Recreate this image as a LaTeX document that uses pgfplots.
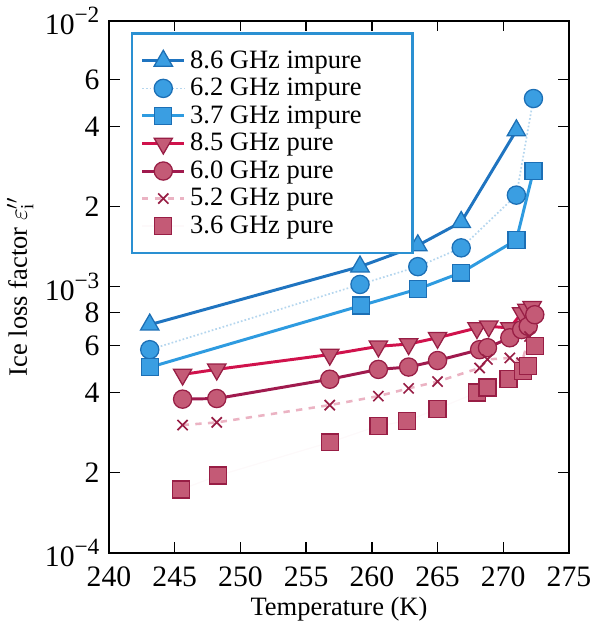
\documentclass[border=0pt]{standalone}
\usepackage{fontspec}
\setmainfont{Liberation Serif}
\usepackage{pgfplots}
\pgfplotsset{compat=1.18}
\definecolor{bluedark}{HTML}{1F74C0}
\definecolor{bluemid}{HTML}{2E9BE0}
\definecolor{bluefill}{HTML}{3A9EE2}
\definecolor{blueedge}{HTML}{1C6FB5}
\definecolor{bluefaint}{HTML}{B5D6EE}
\definecolor{redline}{HTML}{D0124C}
\definecolor{maroon}{HTML}{A01A4E}
\definecolor{pinkfaint}{HTML}{EBB3C3}
\definecolor{pinkfill}{HTML}{C45A76}
\definecolor{pinkedge}{HTML}{981E45}
\definecolor{legblue}{HTML}{2A90D2}
\newcommand{\pw}[1]{10\raisebox{0.85ex}{\fontsize{11}{12}\selectfont −#1}}
\begin{document}
\begin{tikzpicture}
\begin{axis}[
  scale only axis,
  width=217pt, height=251pt,
  ymode=log,
  xmin=240, xmax=275, ymin=1e-4, ymax=1e-2,
  xtick={240,245,...,275},
  ytick={1e-4,2e-4,4e-4,6e-4,8e-4,1e-3,2e-3,4e-3,6e-3,1e-2},
  yticklabels={\pw{4},2,4,6,8,\pw{3},2,4,6,\pw{2}},
  minor ytick={},
  /pgf/number format/assume math mode=true,
  xticklabel style={/pgf/number format/1000 sep={}, yshift=-3pt},
  yticklabel style={xshift=-1pt},
  tick style={black, line width=0.7pt},
  major tick length=5pt,
  axis line style={black, line width=1pt},
  tick label style={font=\fontsize{14}{15}\selectfont},
  label style={font=\fontsize{12.5}{14}\selectfont},
  xlabel={Temperature (K)},
  ylabel={Ice loss factor $\varepsilon_{\mathrm{i}}''$},
  xlabel style={yshift=2pt},
  ylabel style={yshift=-1.4pt},
  legend cell align=left,
  legend style={at={(0.048,0.978)}, anchor=north west, draw=legblue, line width=1pt,
    font=\fontsize{12.5}{13}\selectfont, inner xsep=4pt, inner ysep=6pt, row sep=-0.8pt},
  legend image code/.code={\draw[#1] (0pt,0pt) -- (20pt,0pt); \path[#1] plot coordinates {(10pt,0pt)};},
]
% 8.6 GHz impure
\addplot[bluedark, line width=1.4pt, mark=triangle*, mark size=5pt,
  mark options={fill=bluefill, draw=blueedge, line width=0.6pt, solid}] coordinates {
  (243.1,7.2e-4) (259.1,1.19e-3) (263.5,1.43e-3) (266.8,1.75e-3) (271.0,3.87e-3)};
\addlegendentry{8.6 GHz impure\hspace*{18pt}}
% 6.2 GHz impure
\addplot[bluefaint, line width=0.8pt, densely dotted, mark=*, mark size=4.3pt,
  mark options={fill=bluefill, draw=blueedge, line width=0.6pt, solid}] coordinates {
  (243.1,5.8e-4) (259.1,1.02e-3) (263.5,1.19e-3) (266.8,1.40e-3) (271.0,2.21e-3) (272.3,5.1e-3)};
\addlegendentry{6.2 GHz impure}
% 3.7 GHz impure
\addplot[bluemid, line width=1.4pt, mark=square*, mark size=4pt,
  mark options={fill=bluefill, draw=blueedge, line width=0.6pt, solid}] coordinates {
  (243.1,4.98e-4) (259.2,8.5e-4) (263.5,9.8e-4) (266.8,1.13e-3) (271.0,1.50e-3) (272.3,2.73e-3)};
\addlegendentry{3.7 GHz impure}
% 8.5 GHz pure
\addplot[redline, line width=1.4pt, mark=triangle*, mark size=5pt,
  mark options={rotate=180, fill=pinkfill, draw=pinkedge, line width=0.6pt, solid}] coordinates {
  (245.6,4.68e-4) (248.2,4.89e-4) (256.8,5.56e-4) (260.5,5.97e-4) (262.8,6.09e-4) (265.0,6.43e-4)
  (268.0,7.0e-4) (268.9,7.1e-4) (270.5,7.0e-4) (271.4,7.96e-4) (271.8,8.2e-4) (272.2,8.4e-4)};
\addlegendentry{8.5 GHz pure}
% 6.0 GHz pure
\addplot[maroon, line width=1.4pt, mark=*, mark size=4.3pt,
  mark options={fill=pinkfill, draw=pinkedge, line width=0.6pt, solid}] coordinates {
  (245.6,3.78e-4) (248.2,3.8e-4) (256.8,4.49e-4) (260.5,4.89e-4) (262.8,4.99e-4) (265.0,5.28e-4)
  (268.2,5.8e-4) (268.8,5.9e-4) (270.5,6.43e-4) (271.4,6.9e-4) (271.9,7.1e-4) (272.4,7.85e-4)};
\addlegendentry{6.0 GHz pure}
% 5.2 GHz pure
\addplot[pinkfaint, line width=1.2pt, dashed, mark=x, mark size=3.4pt,
  mark options={draw=pinkedge, line width=0.8pt, solid}] coordinates {
  (245.6,3.02e-4) (248.2,3.09e-4) (256.8,3.59e-4) (260.5,3.88e-4) (262.8,4.15e-4) (265.0,4.40e-4)
  (268.2,4.95e-4) (268.8,5.33e-4) (270.5,5.4e-4) (271.4,5.18e-4) (272.0,6.5e-4)};
\addlegendentry{5.2 GHz pure}
% 3.6 GHz pure
\addplot[white!92!pinkfaint, line width=0.6pt, mark=square*, mark size=4pt,
  mark options={fill=pinkfill, draw=pinkedge, line width=0.6pt, solid}] coordinates {
  (245.5,1.73e-4) (248.3,1.95e-4) (256.8,2.6e-4) (260.5,3.0e-4) (262.7,3.13e-4) (265.0,3.48e-4)
  (268.0,4.0e-4) (268.8,4.18e-4) (270.4,4.51e-4) (271.5,4.82e-4) (271.9,5.03e-4) (272.4,5.97e-4)};
\addlegendentry{3.6 GHz pure}
\end{axis}
\path ([yshift=9pt]current axis.north);
\end{tikzpicture}
\end{document}
